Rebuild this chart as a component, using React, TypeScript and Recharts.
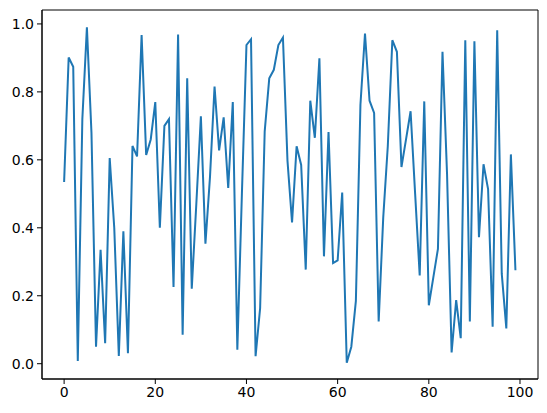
import React from "react";
import { LineChart, Line, XAxis, YAxis, ReferenceArea } from "recharts";

const values: number[] = [
  0.535, 0.901, 0.874, 0.008, 0.72, 0.99, 0.68, 0.05, 0.335, 0.06,
  0.605, 0.4, 0.023, 0.39, 0.031, 0.641, 0.61, 0.967, 0.614, 0.66,
  0.77, 0.4, 0.7, 0.72, 0.226, 0.969, 0.085, 0.84, 0.221, 0.47,
  0.728, 0.353, 0.55, 0.816, 0.628, 0.725, 0.517, 0.77, 0.041, 0.5,
  0.938, 0.955, 0.022, 0.164, 0.684, 0.84, 0.865, 0.938, 0.96, 0.597,
  0.416, 0.64, 0.585, 0.277, 0.774, 0.665, 0.899, 0.316, 0.682, 0.296,
  0.304, 0.504, 0.003, 0.05, 0.185, 0.762, 0.972, 0.774, 0.738, 0.124,
  0.43, 0.64, 0.952, 0.918, 0.579, 0.66, 0.743, 0.5, 0.26, 0.772,
  0.172, 0.255, 0.338, 0.918, 0.558, 0.033, 0.187, 0.075, 0.952, 0.124,
  0.949, 0.372, 0.587, 0.514, 0.109, 0.981, 0.265, 0.104, 0.616, 0.275,
];

const xTicks: number[] = [0, 20, 40, 60, 80, 100];
const yTicks: number[] = [0, 0.2, 0.4, 0.6, 0.8, 1.0];
const xDomain: [number, number] = [-4.85, 103.95];
const yDomain: [number, number] = [-0.045, 1.041];

const data = values.map((v, i) => ({ x: i, y: v }));

const font = { fontFamily: "DejaVu Sans", fontSize: 14, fill: "#000" };

export default function App() {
  return (
    <div style={{ position: "absolute", left: 0, top: 0, background: "#fff" }}>
      <LineChart
        width={547}
        height={413}
        data={data}
        margin={{ top: 10, right: 9, bottom: 0, left: 0 }}
      >
        <XAxis
          dataKey="x"
          type="number"
          domain={xDomain}
          ticks={xTicks}
          allowDataOverflow
          height={34}
          tick={font}
          tickSize={5}
          tickMargin={3}
          stroke="#000"
          tickLine={{ stroke: "#000" }}
          axisLine={{ stroke: "#000" }}
        />
        <YAxis
          type="number"
          domain={yDomain}
          ticks={yTicks}
          allowDataOverflow
          width={42}
          tick={font}
          tickSize={5}
          tickMargin={3}
          tickFormatter={(v: number) => v.toFixed(1)}
          stroke="#000"
          tickLine={{ stroke: "#000" }}
          axisLine={{ stroke: "#000" }}
        />
        <ReferenceArea
          x1={xDomain[0]}
          x2={xDomain[1]}
          y1={yDomain[0]}
          y2={yDomain[1]}
          fill="none"
          fillOpacity={0}
          stroke="#000"
          strokeWidth={1}
          ifOverflow="visible"
        />
        <Line
          type="linear"
          dataKey="y"
          stroke="#1f77b4"
          strokeWidth={2}
          dot={false}
          isAnimationActive={false}
        />
      </LineChart>
    </div>
  );
}
